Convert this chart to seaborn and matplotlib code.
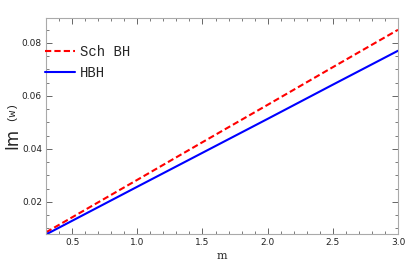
import numpy as np
import pandas as pd
import matplotlib
matplotlib.use("Agg")
import matplotlib.pyplot as plt
import seaborn as sns
from matplotlib.ticker import MultipleLocator

m_vals = [0.3, 1.0, 1.5, 2.0, 2.5, 3.0]
sch_bh = [0.0085, 0.0283, 0.0425, 0.0566, 0.0708, 0.0849]
hbh = [0.0077, 0.0257, 0.0385, 0.0513, 0.0642, 0.0770]

df = pd.DataFrame({"m": m_vals * 2,
                   "im": sch_bh + hbh,
                   "model": ["Sch BH"] * len(m_vals) + ["HBH"] * len(m_vals)})

sns.set_style("ticks")
fig, ax = plt.subplots(figsize=(4.15, 2.67), dpi=100)
fig.subplots_adjust(left=0.111, right=0.959, top=0.933, bottom=0.124)

sns.lineplot(data=df, x="m", y="im", hue="model", style="model",
             palette={"Sch BH": "#ff0000", "HBH": "#0000ff"},
             dashes={"Sch BH": (3, 1.5), "HBH": ""}, linewidth=1.5, ax=ax)

ax.set_xlim(0.3, 3.0)
ax.set_ylim(0.0079, 0.0894)
ax.xaxis.set_major_locator(MultipleLocator(0.5))
ax.xaxis.set_minor_locator(MultipleLocator(0.1))
ax.yaxis.set_major_locator(MultipleLocator(0.02))
ax.yaxis.set_minor_locator(MultipleLocator(0.005))
ax.tick_params(which="both", direction="in", top=True, right=True,
               bottom=True, left=True, color="#666666",
               labelsize=6.5, labelcolor="#222222")
ax.tick_params(which="major", length=4, width=0.7, pad=3)
ax.tick_params(which="minor", length=2, width=0.6)
ax.set_yticks([0.02, 0.04, 0.06, 0.08])
ax.set_yticklabels(["0.02", "0.04", "0.06", "0.08"])
for s in ax.spines.values():
    s.set_color("#aaaaaa")
    s.set_linewidth(0.8)

ax.set_xlabel("m", family="DejaVu Serif", fontsize=8, labelpad=3)
ax.set_ylabel("")
fig.text(0.03, 0.48, "Im", rotation=90, fontsize=12, ha="center", va="center")
fig.text(0.027, 0.585, "(w)", rotation=90, fontsize=8, ha="center", va="center",
         family="Liberation Mono")

leg = ax.legend(loc="upper left", bbox_to_anchor=(-0.02, 0.90), frameon=False,
                prop={"family": "Liberation Mono", "size": 10},
                handlelength=2.2, handletextpad=0.35, labelspacing=0.5,
                borderaxespad=0)

fig.savefig("out.png", dpi=100)
